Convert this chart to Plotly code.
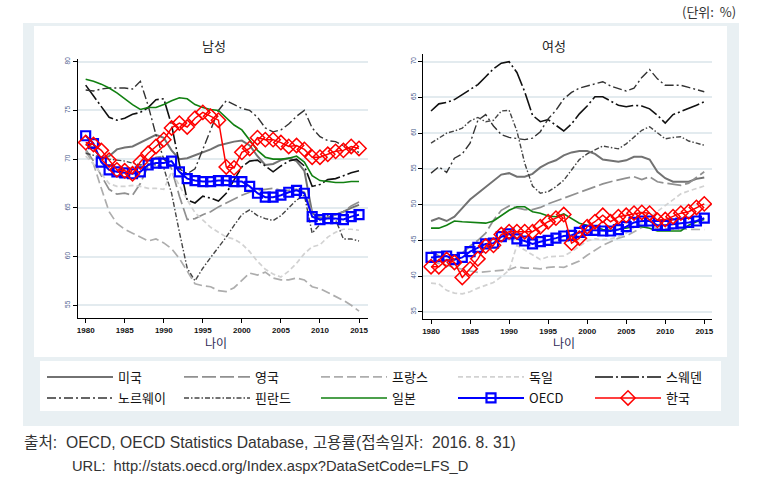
import plotly.graph_objects as go

# ---------------- data ----------------
years = [1980, 1981, 1982, 1983, 1984, 1985, 1986, 1987, 1988, 1989,
         1990, 1991, 1992, 1993, 1994, 1995, 1996, 1997, 1998, 1999,
         2000, 2001, 2002, 2003, 2004, 2005, 2006, 2007, 2008, 2009,
         2010, 2011, 2012, 2013, 2014, 2015]

series_names = ["미국", "영국", "프랑스", "독일", "스웨덴", "노르웨이", "핀란드", "일본", "OECD", "한국"]

# 남성 (male)
male_usa = [71.5, 71.2, 70.0, 70.3, 71.0, 71.2, 71.3, 71.7, 72.1, 72.5, 72.2, 70.9, 70.0, 70.1, 70.4, 70.7, 71.0, 71.4,
            71.6, 71.8, 71.9, 71.4, 70.3, 69.4, 69.5, 69.9, 70.1, 69.8, 68.8, 64.5, 63.8, 64.0, 64.3, 64.6, 65.0, 65.3]
male_uk = [71.0, 69.8, 68.3, 66.9, 66.4, 66.5, 66.3, 67.5, 69.3, 70.2, 70.3, 69.0, 66.2, 63.8, 63.9, 64.3, 64.6, 65.1,
           65.5, 65.9, 66.3, 66.6, 66.8, 66.9, 67.0, 66.8, 66.8, 66.9, 66.6, 64.6, 64.0, 64.0, 64.3, 64.6, 65.2, 65.6]
male_france = [70.8, 69.5, 67.0, 64.6, 63.4, 62.8, 62.4, 62.0, 61.6, 61.8, 61.4, 60.8, 59.8, 58.5, 57.2, 57.0, 56.9, 56.5,
               56.4, 56.8, 57.5, 58.3, 58.1, 58.4, 57.8, 57.6, 57.6, 57.8, 57.6, 56.9, 56.7, 56.3, 55.9, 55.5, 55.0, 54.4]
male_germany = [70.3, 69.5, 68.5, 67.5, 67.2, 67.2, 67.3, 67.2, 67.0, 67.0, 66.9, 68.7, 67.3, 65.8, 64.5, 63.7, 63.0, 62.5,
                62.0, 61.8, 61.3, 60.5, 59.5, 58.7, 58.2, 57.9, 58.5, 59.3, 60.3, 61.0, 61.2, 62.0, 62.5, 62.8, 62.8, 62.7]
male_sweden = [77.6, 76.5, 75.3, 74.3, 74.0, 74.2, 74.6, 74.8, 75.3, 76.1, 76.2, 73.5, 69.5, 65.8, 65.5, 66.2, 66.0, 65.7,
               66.5, 67.8, 69.2, 69.8, 69.9, 69.3, 68.7, 69.3, 69.8, 70.0, 69.3, 67.2, 67.4, 67.9, 68.0, 68.3, 68.6, 68.8]
male_norway = [77.1, 77.0, 77.2, 77.3, 77.3, 77.3, 77.2, 78.0, 75.5, 72.5, 70.0, 69.3, 69.0, 68.5, 69.0, 71.0, 73.0, 75.0,
               76.0, 75.6, 75.2, 75.0, 74.3, 73.2, 72.8, 73.0, 73.6, 74.4, 75.0, 73.2, 72.3, 71.9, 71.8, 71.4, 71.0, 70.7]
male_finland = [70.6, 70.4, 70.2, 70.0, 69.9, 69.8, 69.6, 69.4, 69.5, 69.4, 69.1, 66.5, 62.5, 58.8, 57.5, 58.8, 59.9, 60.9,
                62.0, 63.2, 64.3, 64.8, 64.2, 63.9, 63.7, 64.2, 65.0, 65.8, 66.3, 62.4, 63.3, 64.2, 63.8, 61.8, 61.8, 61.6]
male_japan = [78.2, 78.0, 77.7, 77.3, 76.8, 76.2, 75.6, 75.1, 75.3, 75.3, 75.6, 76.0, 76.3, 76.2, 75.6, 75.3, 75.1, 75.0,
              74.2, 73.5, 73.0, 72.0, 70.9, 70.2, 70.0, 70.0, 70.1, 70.3, 69.7, 68.3, 67.8, 67.7, 67.6, 67.6, 67.7, 67.7]
male_oecd = [72.4, 71.6, 69.7, 68.9, 68.7, 68.6, 68.5, 68.7, 69.4, 69.6, 69.6, 69.8, 68.7, 68.0, 67.8, 67.7, 67.7, 67.8,
             67.8, 67.7, 67.7, 67.2, 66.5, 66.1, 66.1, 66.3, 66.6, 66.8, 66.5, 64.1, 63.8, 63.9, 63.9, 63.8, 64.1, 64.3]
male_korea = [71.7, 71.5, 70.9, 69.9, 68.9, 68.8, 68.5, 69.7, 70.6, 71.3, 72.0, 73.2, 73.7, 73.3, 74.2, 74.8, 74.4, 74.0,
              69.2, 69.1, 70.7, 71.1, 72.2, 72.0, 72.0, 71.7, 71.3, 71.4, 71.0, 70.2, 70.2, 70.5, 70.8, 70.9, 71.3, 71.1]

# 여성 (female)
female_usa = [47.7, 48.1, 47.7, 48.3, 49.5, 50.7, 51.6, 52.5, 53.3, 54.2, 54.4, 53.9, 53.9, 54.3, 55.2, 55.8, 56.2, 56.9,
              57.3, 57.5, 57.5, 57.1, 56.3, 56.1, 56.0, 56.2, 56.7, 56.7, 56.3, 54.6, 53.7, 53.2, 53.2, 53.2, 53.6, 53.8]
female_uk = [43.5, 42.8, 42.3, 42.3, 43.2, 44.2, 45.0, 46.0, 47.8, 49.2, 49.8, 49.6, 49.3, 49.3, 49.6, 50.1, 50.5, 50.9,
             51.3, 51.8, 52.2, 52.6, 52.9, 53.2, 53.5, 53.7, 53.9, 53.5, 53.9, 53.2, 53.0, 52.8, 52.7, 53.0, 53.8, 54.6]
female_france = [42.0, 41.8, 41.5, 41.2, 40.9, 40.7, 40.5, 40.6, 40.7, 40.8, 40.9, 41.3, 41.1, 41.1, 41.0, 41.2, 41.3, 41.2,
                 41.6, 42.1, 42.9, 43.6, 44.3, 44.8, 45.3, 45.6, 46.2, 46.8, 47.0, 46.6, 46.6, 46.6, 46.6, 46.6, 46.5, 46.5]
female_germany = [39.0, 38.9, 38.0, 37.6, 37.5, 37.8, 38.3, 38.7, 39.1, 39.9, 40.8, 44.3, 43.6, 42.9, 42.3, 42.7, 42.8, 42.8,
                  43.4, 44.1, 44.9, 45.2, 45.1, 45.2, 45.5, 46.0, 46.8, 47.4, 48.2, 49.0, 49.9, 50.7, 51.5, 51.9, 52.3, 52.6]
female_sweden = [63.1, 64.1, 64.3, 64.7, 65.4, 66.1, 66.8, 67.9, 69.0, 69.8, 70.0, 68.5, 65.8, 62.5, 61.6, 61.9, 61.1, 60.3,
                 61.3, 62.7, 63.8, 65.1, 65.1, 64.5, 63.9, 63.7, 63.9, 63.8, 63.4, 62.5, 61.4, 62.6, 63.0, 63.4, 63.9, 64.4]
female_norway = [54.4, 55.3, 54.5, 56.5, 57.1, 58.6, 61.8, 62.6, 61.0, 59.8, 59.4, 59.3, 59.1, 59.3, 60.2, 62.0, 63.2, 64.8,
                 65.7, 66.3, 66.6, 66.9, 67.2, 66.6, 66.2, 65.9, 66.3, 67.8, 68.9, 67.6, 66.7, 66.7, 66.7, 66.4, 66.1, 65.8]
female_finland = [58.6, 59.3, 60.0, 60.3, 60.7, 61.7, 62.2, 61.6, 61.8, 63.1, 63.2, 60.3, 55.8, 52.6, 51.6, 51.8, 52.5, 53.4,
                  54.8, 56.3, 57.1, 57.6, 58.2, 58.0, 57.8, 58.5, 59.5, 60.4, 60.9, 60.0, 59.2, 59.4, 59.5, 58.9, 58.6, 58.3]
female_japan = [46.7, 46.7, 47.1, 47.7, 47.6, 47.5, 47.4, 47.4, 47.7, 48.5, 49.2, 49.7, 49.7, 49.0, 48.8, 48.4, 48.3, 48.7,
                48.1, 47.4, 47.1, 46.9, 46.5, 46.4, 46.5, 46.7, 46.9, 46.9, 46.7, 46.3, 46.3, 46.3, 46.3, 47.1, 47.6, 47.9]
female_oecd = [42.6, 42.7, 42.8, 42.3, 42.6, 43.4, 44.0, 44.5, 44.6, 45.5, 45.9, 45.2, 44.9, 44.5, 44.8, 45.0, 45.3, 45.6,
               45.7, 46.1, 46.4, 46.4, 46.3, 46.3, 46.5, 46.9, 47.5, 47.7, 47.7, 47.1, 47.1, 47.3, 47.4, 47.5, 47.7, 48.1]
female_korea = [41.3, 41.3, 42.3, 41.9, 39.8, 41.0, 42.4, 44.2, 44.3, 45.8, 46.2, 46.2, 46.2, 46.2, 46.9, 47.6, 48.1, 48.6,
                44.6, 45.3, 46.9, 47.6, 48.5, 47.6, 48.3, 48.5, 48.8, 48.9, 48.8, 47.8, 47.9, 48.3, 48.8, 49.0, 49.6, 50.1]

male_values = [male_usa, male_uk, male_france, male_germany, male_sweden,
               male_norway, male_finland, male_japan, male_oecd, male_korea]
female_values = [female_usa, female_uk, female_france, female_germany, female_sweden,
                 female_norway, female_finland, female_japan, female_oecd, female_korea]

male_yticks = [55, 60, 65, 70, 75, 80]
female_yticks = [35, 40, 45, 50, 55, 60, 65, 70]
xticks = [1980, 1985, 1990, 1995, 2000, 2005, 2010, 2015]

# ---------------- styles ----------------
styles = {
    "미국": dict(line=dict(color="#727272", width=2.0, dash="solid")),
    "영국": dict(line=dict(color="#909090", width=1.7, dash="14px,4px")),
    "프랑스": dict(line=dict(color="#adadad", width=1.7, dash="9px,4px")),
    "독일": dict(line=dict(color="#d2d2d2", width=1.7, dash="5px,3px")),
    "스웨덴": dict(line=dict(color="#111111", width=1.6, dash="18px,3px,2px,3px")),
    "노르웨이": dict(line=dict(color="#333333", width=1.4, dash="9px,3px,2px,3px")),
    "핀란드": dict(line=dict(color="#454545", width=1.4, dash="5px,2px,1.5px,2px")),
    "일본": dict(line=dict(color="#118011", width=1.6, dash="solid")),
    "OECD": dict(line=dict(color="#0000ff", width=2.0, dash="solid"),
                 marker=dict(symbol="square-open", size=9, color="#0000ff", line=dict(width=2.2, color="#0000ff"))),
    "한국": dict(line=dict(color="#ff0000", width=1.5, dash="solid"),
                marker=dict(symbol="diamond-open", size=11, color="#ff0000", line=dict(width=1.5, color="#ff0000"))),
}
legend_row = {"미국": "legend", "영국": "legend", "프랑스": "legend", "독일": "legend", "스웨덴": "legend",
              "노르웨이": "legend2", "핀란드": "legend2", "일본": "legend2", "OECD": "legend2", "한국": "legend2"}

W, H = 765, 490
ML, MR, MT, MB = 77, 53, 54, 170
PW = W - ML - MR
PH = H - MT - MB


def fx(px):
    return (px - ML) / PW


def fy(py):
    return (H - MB - py) / PH


fig = go.Figure()

for name, vals in zip(series_names, male_values):
    st = styles[name]
    mode = "lines+markers" if "marker" in st else "lines"
    fig.add_trace(go.Scatter(x=years, y=vals, name=name, mode=mode, xaxis="x", yaxis="y",
                             legendgroup=name, showlegend=True, legend=legend_row[name], **st))
for name, vals in zip(series_names, female_values):
    st = styles[name]
    mode = "lines+markers" if "marker" in st else "lines"
    fig.add_trace(go.Scatter(x=years, y=vals, name=name, mode=mode, xaxis="x2", yaxis="y2",
                             legendgroup=name, showlegend=False, legend=legend_row[name], **st))

tick_font_x = dict(family="Liberation Sans, Arial, sans-serif", size=8, color="#111111", weight="bold")
tick_font_y = dict(family="Liberation Sans, Arial, sans-serif", size=6.5, color="#4a5a8c")
grid_col = "#e3ebef"

common_x = dict(showline=True, linecolor="#000000", linewidth=1, ticks="outside", ticklen=4,
                tickcolor="#000000", tickwidth=1, tickvals=xticks, tickfont=tick_font_x,
                showgrid=False, zeroline=False, mirror=False)
common_y = dict(showline=True, linecolor="#000000", linewidth=1, ticks="outside", ticklen=4,
                tickcolor="#000000", tickwidth=1, tickfont=tick_font_y, tickangle=-90,
                showgrid=True, gridcolor=grid_col, gridwidth=2, zeroline=False)

legend_common = dict(orientation="h", xanchor="left", yanchor="middle", xref="paper", yref="paper",
                     itemwidth=66, entrywidth=56, entrywidthmode="pixels",
                     bgcolor="rgba(0,0,0,0)", borderwidth=0,
                     font=dict(family="Noto Sans CJK KR, Liberation Sans, sans-serif", size=13, color="#111111"),
                     traceorder="normal")

fig.update_layout(
    width=W, height=H,
    margin=dict(l=ML, r=MR, t=MT, b=MB, pad=0),
    paper_bgcolor="#ffffff", plot_bgcolor="#ffffff",
    font=dict(family="Noto Sans CJK KR, Liberation Sans, sans-serif", color="#222222"),
    xaxis=dict(domain=[fx(77.7), fx(368)], range=[1978.98, 2016.15], anchor="y", **common_x),
    yaxis=dict(domain=[fy(318.3), fy(59.3)], range=[53.66, 80.25], tickvals=male_yticks, anchor="x", **common_y),
    xaxis2=dict(domain=[fx(423.3), fx(712)], range=[1979.01, 2015.99], anchor="y2", **common_x),
    yaxis2=dict(domain=[fy(319.3), fy(54)], range=[33.94, 71.08], tickvals=female_yticks, anchor="x2", **common_y),
    showlegend=True,
    legend=dict(x=fx(42), y=fy(377), **legend_common),
    legend2=dict(x=fx(42), y=fy(398), **legend_common),
)

shapes = [
    dict(type="rect", xref="paper", yref="paper", x0=fx(23), x1=fx(739), y0=fy(426), y1=fy(23),
         fillcolor="#e9f0f3", line=dict(width=0), layer="below"),
    dict(type="rect", xref="paper", yref="paper", x0=fx(34), x1=fx(727), y0=fy(357), y1=fy(26),
         fillcolor="#ffffff", line=dict(width=0), layer="below"),
    dict(type="rect", xref="paper", yref="paper", x0=fx(40), x1=fx(721), y0=fy(411), y1=fy(361),
         fillcolor="#ffffff", line=dict(width=0), layer="below"),
]
fig.update_layout(shapes=shapes)

ann_font = dict(family="Noto Sans CJK KR, sans-serif", size=13, color="#222222")
src_font1 = dict(family="Liberation Sans, Noto Sans CJK KR, sans-serif", size=15.7, color="#333333")
src_font2 = dict(family="Liberation Sans, Noto Sans CJK KR, sans-serif", size=14.7, color="#333333")
annotations = [
    dict(text="남성", x=fx(213.5), y=fy(45), xref="paper", yref="paper", showarrow=False,
         xanchor="center", yanchor="middle", font=ann_font),
    dict(text="여성", x=fx(553.5), y=fy(45), xref="paper", yref="paper", showarrow=False,
         xanchor="center", yanchor="middle", font=ann_font),
    dict(text="나이", x=fx(216), y=fy(342), xref="paper", yref="paper", showarrow=False,
         xanchor="center", yanchor="middle", font=dict(family="Noto Sans CJK KR, sans-serif", size=12, color="#2e2a55")),
    dict(text="나이", x=fx(564), y=fy(342), xref="paper", yref="paper", showarrow=False,
         xanchor="center", yanchor="middle", font=dict(family="Noto Sans CJK KR, sans-serif", size=12, color="#2e2a55")),
    dict(text="(단위:  %)", x=fx(738), y=fy(12), xref="paper", yref="paper", showarrow=False,
         xanchor="right", yanchor="middle", font=dict(family="Noto Sans CJK KR, sans-serif", size=13, color="#333333")),
    dict(text="출처:  OECD, OECD Statistics Database, 고용률(접속일자:  2016. 8. 31)", x=fx(22), y=fy(442),
         xref="paper", yref="paper", showarrow=False, xanchor="left", yanchor="middle", font=src_font1),
    dict(text="URL:  http://stats.oecd.org/Index.aspx?DataSetCode=LFS_D", x=fx(70), y=fy(466),
         xref="paper", yref="paper", showarrow=False, xanchor="left", yanchor="middle", font=src_font2),
]
fig.update_layout(annotations=annotations)

fig.write_html("out.html", config={"displayModeBar": False},
               post_script="document.body.style.margin='0px';")
